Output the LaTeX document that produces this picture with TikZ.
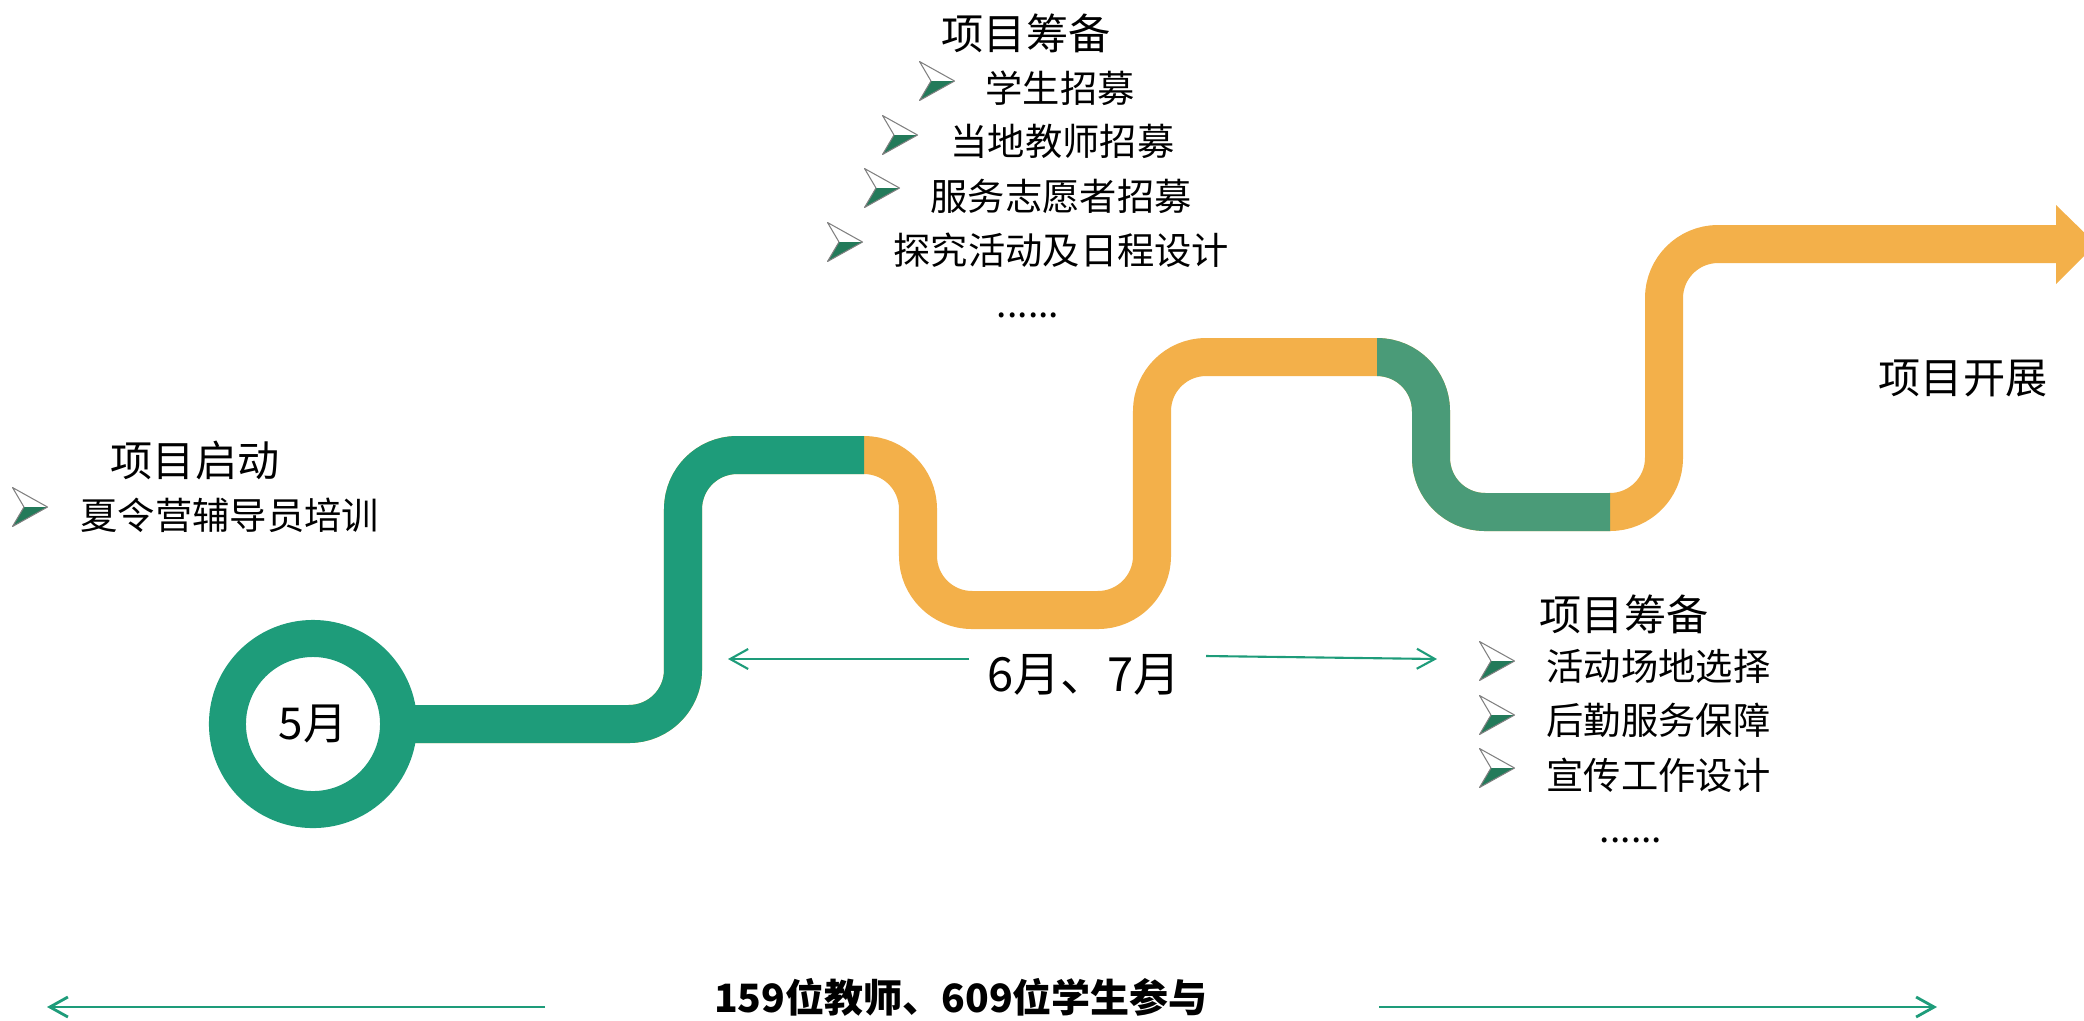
\documentclass[tikz,border=0pt]{standalone}
\usepackage{fontspec}
\setmainfont{Noto Sans CJK SC}
\usetikzlibrary{arrows.meta}
\definecolor{tgreen}{RGB}{30,156,122}
\definecolor{mgreen}{RGB}{74,155,120}
\definecolor{sorange}{RGB}{243,176,74}
\definecolor{bgreen}{RGB}{35,122,90}
\newcommand{\roadpath}{(start)-- (683,724)-- (683,455)-- (918,455)-- (918,610)-- (1152,610)-- (1152,357)-- (1431,357)-- (1431,512)-- (1664,512)-- (1664,244)-- (2056,244)}
\tikzset{
  road/.style={line width=0.38cm,line cap=butt,rounded corners=0.54cm},
  ring/.style={circle,draw=tgreen,fill=white,line width=0.37cm,minimum size=1.71cm,inner sep=0pt,outer sep=0pt,font=\fontsize{12.5}{15}\selectfont},
  heading/.style={inner sep=0pt,font=\fontsize{12}{14}\selectfont},
  entry/.style={inner sep=0pt,anchor=west,font=\fontsize{10.6}{13}\selectfont},
  spanline/.style={draw=tgreen,line width=0.6pt,->},
  bullet/.pic={
    \fill [bgreen] (-6,0)-- (17.5,0)-- (-17.5,19.5)-- cycle;
    \draw [gray,line width=0.3pt] (-6,0)-- (-17.5,-19.5)-- (17.5,0)-- (-17.5,19.5)-- cycle;
  }
}
\begin{document}
\begin{tikzpicture}[line join=round,>={Straight Barb[length=1.8mm,width=2mm]},x=0.01cm,y=-0.01cm]
\clip(0,0) rectangle (2084,1020);
% road: orange everywhere, green parts laid over it
\coordinate (start) at (313,724);
\draw [road,sorange] \roadpath;
\fill [sorange] (2056,205)-- (2096,244)-- (2056,284)-- cycle;
\begin{scope}
\clip (0,0) rectangle (864,1020);
\draw [road,tgreen] \roadpath;
\end{scope}
\begin{scope}
\clip (1377,0) rectangle (1610,1020);
\draw [road,mgreen] \roadpath;
\end{scope}
\node [ring] (may) at (start) {5月};

% project start
\node [heading] (kick) at (195,460) {项目启动};
\pic at (30,507) {bullet};
\node [entry] (kick1) at (80,515) {夏令营辅导员培训};

% preparation, top
\node [heading] (prep) at (1026,33) {项目筹备};
\pic at (937,81) {bullet};
\pic at (900,135) {bullet};
\pic at (882,188) {bullet};
\pic at (845,242) {bullet};
\node [entry] (prep1) at (985,88) {学生招募};
\node [entry] (prep2) at (950,141) {当地教师招募};
\node [entry] (prep3) at (930,196) {服务志愿者招募};
\node [entry] (prep4) at (893,250) {探究活动及日程设计};
\node [inner sep=0pt,font=\fontsize{10.6}{13}\selectfont] (prepdots) at (1028,315) {......};

% preparation, bottom
\node [heading] (plan) at (1624,614) {项目筹备};
\pic at (1497,661) {bullet};
\pic at (1497,715) {bullet};
\pic at (1497,768) {bullet};
\node [entry] (plan1) at (1546,666) {活动场地选择};
\node [entry] (plan2) at (1546,720) {后勤服务保障};
\node [entry] (plan3) at (1546,775) {宣传工作设计};
\node [inner sep=0pt,font=\fontsize{10.6}{13}\selectfont] (plandots) at (1631,840) {......};

\node [heading] (run) at (1963,378) {项目开展};

% months
\node [inner sep=0pt,font=\fontsize{13.4}{16}\selectfont] (junjul) at (1084,675) {6月、7月};
\coordinate (jl0) at (969,659);
\coordinate (jl1) at (728,659);
\coordinate (jr0) at (1206,656);
\coordinate (jr1) at (1437,659);
\draw [spanline] (jl0)-- (jl1);
\draw [spanline] (jr0)-- (jr1);

% totals
\node [inner sep=0pt,font=\bfseries\fontsize{11.1}{13}\selectfont] (total) at (961,997) {159位教师、609位学生参与};
\coordinate (tl0) at (545,1007);
\coordinate (tl1) at (47,1007);
\coordinate (tr0) at (1379,1007);
\coordinate (tr1) at (1937,1007);
\draw [spanline,line width=0.8pt] (tl0)-- (tl1);
\draw [spanline,line width=0.8pt] (tr0)-- (tr1);
\end{tikzpicture}
\end{document}
